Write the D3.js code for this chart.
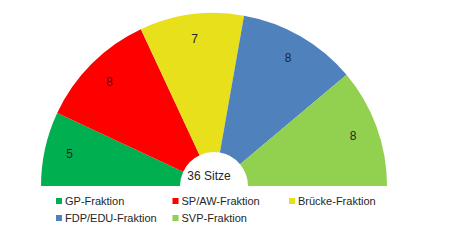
<!DOCTYPE html>
<html>
<head>
<meta charset="utf-8">
<script src="https://cdn.jsdelivr.net/npm/d3@7"></script>
<style>
  body { margin: 0; background: #fff; }
  text { font-family: "Liberation Sans", Arial, sans-serif; fill: #262626; }
</style>
</head>
<body>
<div id="chart"></div>
<script>
// seats per group
var parties = ["GP-Fraktion", "SP/AW-Fraktion", "Brücke-Fraktion", "FDP/EDU-Fraktion", "SVP-Fraktion"];
var seats = [5, 8, 7, 8, 8];
var colors = ["#00B050", "#FF0000", "#E8E01A", "#4F81BD", "#92D050"];
var centerLabel = "36 Sitze";

(function() {
var width = 450, height = 246;
var cx = 214, cy = 186, outerR = 173, innerR = 34;

var svg = d3.select("#chart").append("svg")
    .attr("width", width)
    .attr("height", height);

var g = svg.append("g")
    .attr("transform", "translate(" + cx + "," + cy + ")");

// half donut, left to right
var pie = d3.pie()
    .sort(null)
    .startAngle(-Math.PI / 2)
    .endAngle(Math.PI / 2);

var arc = d3.arc().innerRadius(innerR).outerRadius(outerR);
var labelArc = d3.arc().innerRadius(148).outerRadius(148);

var arcs = pie(seats);

g.selectAll("path")
    .data(arcs)
  .enter().append("path")
    .attr("d", arc)
    .attr("fill", function(d, i) { return colors[i]; });

g.selectAll("text.val")
    .data(arcs)
  .enter().append("text")
    .attr("class", "val")
    .attr("transform", function(d) { return "translate(" + labelArc.centroid(d) + ")"; })
    .attr("text-anchor", "middle")
    .attr("dy", "0.35em")
    .style("font-size", "12px")
    .text(function(d) { return d.data; });

g.append("text")
    .attr("x", -5)
    .attr("y", -6)
    .attr("text-anchor", "middle")
    .style("font-size", "12px")
    .text(centerLabel);

// legend, three columns
var legend = svg.append("g");
var item = legend.selectAll("g")
    .data(parties)
  .enter().append("g")
    .attr("transform", function(d, i) {
      return "translate(" + (56 + (i % 3) * 116.5) + "," + (201 + Math.floor(i / 3) * 17) + ")";
    });

item.append("rect")
    .attr("x", 0)
    .attr("y", -3)
    .attr("width", 6)
    .attr("height", 6)
    .attr("fill", function(d, i) { return colors[i]; });

item.append("text")
    .attr("x", 9)
    .attr("dy", "0.35em")
    .style("font-size", "11px")
    .text(function(d) { return d; });
})();
</script>
</body>
</html>
